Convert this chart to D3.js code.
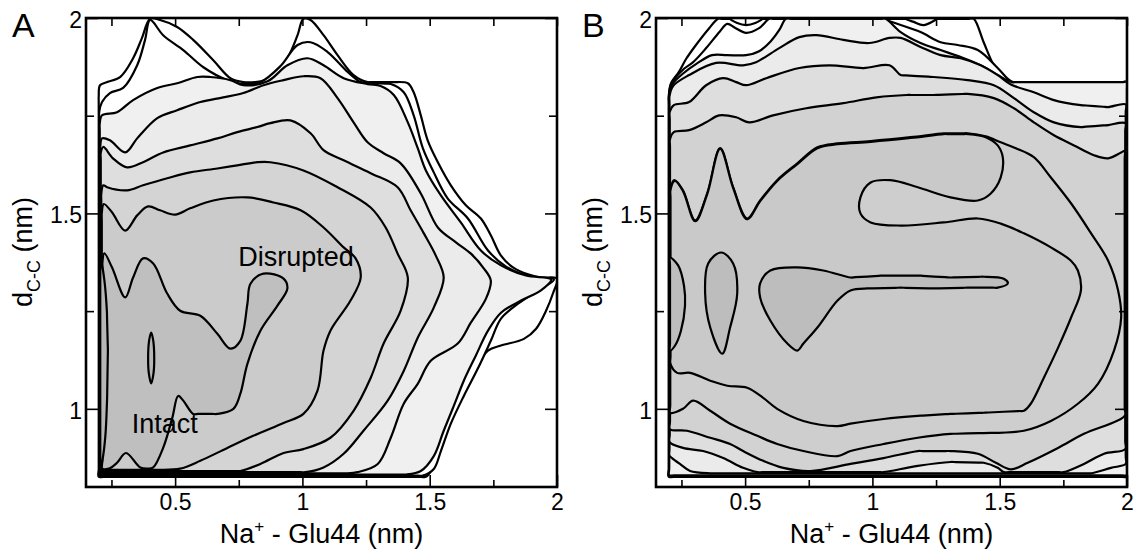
<!DOCTYPE html>
<html>
<head>
<meta charset="utf-8">
<script src="https://cdn.jsdelivr.net/npm/d3@7"></script>
<style>
  body { margin: 0; background: #fff; }
  svg text { font-family: "Liberation Sans", Arial, Helvetica, sans-serif; fill: #000; }
</style>
</head>
<body>
<div id="chart"></div>
<script>
// ---- ticks (nm) ----
const xMajor = [0.5, 1, 1.5, 2];
const xMinor = [0.25, 0.75, 1.25, 1.75];
const yMajor = [1, 1.5, 2];
const yMinor = [1.25, 1.75];

// ---- panel A contour lines, [Na+ - Glu44, dC-C] in nm, outermost first ----
const a1 = [[0.2,0.826],[0.2,1.8],[0.205,1.828],[0.233,1.836],[0.284,1.849],[0.335,1.897],[0.37,1.949],[0.402,1.998],[0.441,1.995],[0.508,1.977],[0.571,1.944],[0.65,1.892],[0.717,1.846],[0.768,1.836],[0.815,1.836],[0.855,1.841],[0.886,1.851],[0.941,1.897],[0.981,1.956],[1.004,1.998],[1.032,1.995],[1.083,1.956],[1.138,1.905],[1.201,1.854],[1.256,1.836],[1.359,1.836],[1.414,1.833],[1.437,1.81],[1.465,1.751],[1.492,1.687],[1.532,1.631],[1.583,1.572],[1.642,1.521],[1.701,1.487],[1.74,1.444],[1.78,1.392],[1.827,1.362],[1.886,1.344],[1.937,1.336],[2.0,1.333],[1.985,1.297],[1.957,1.251],[1.918,1.205],[1.87,1.179],[1.78,1.162],[1.729,1.149],[1.662,1.09],[1.61,1.028],[1.555,0.962],[1.516,0.874],[1.504,0.841],[1.485,0.826]];
const a2 = [[0.202,0.829],[0.202,1.76],[0.213,1.785],[0.244,1.808],[0.296,1.821],[0.351,1.879],[0.382,1.944],[0.402,1.995],[0.453,1.956],[0.532,1.918],[0.611,1.874],[0.705,1.841],[0.768,1.831],[0.835,1.836],[0.914,1.877],[0.981,1.931],[1.032,1.938],[1.099,1.913],[1.178,1.862],[1.229,1.836],[1.347,1.831],[1.398,1.81],[1.437,1.751],[1.473,1.667],[1.516,1.605],[1.571,1.538],[1.65,1.487],[1.729,1.405],[1.8,1.364],[1.898,1.338],[1.988,1.331],[1.926,1.303],[1.847,1.269],[1.78,1.231],[1.74,1.174],[1.689,1.103],[1.634,1.033],[1.583,0.962],[1.544,0.892],[1.516,0.846],[1.473,0.829]];
const a3 = [[0.204,0.832],[0.204,1.73],[0.213,1.751],[0.272,1.759],[0.335,1.79],[0.43,1.821],[0.508,1.833],[0.587,1.849],[0.638,1.849],[0.717,1.841],[0.768,1.828],[0.863,1.838],[0.941,1.879],[1.02,1.897],[1.083,1.879],[1.162,1.846],[1.256,1.831],[1.307,1.826],[1.359,1.803],[1.414,1.733],[1.453,1.667],[1.485,1.61],[1.544,1.546],[1.622,1.477],[1.701,1.405],[1.78,1.367],[1.878,1.341],[1.977,1.331],[1.937,1.303],[1.859,1.277],[1.78,1.246],[1.729,1.2],[1.681,1.136],[1.634,1.072],[1.595,1.008],[1.555,0.944],[1.516,0.879],[1.465,0.841],[1.406,0.832]];
const a4 = [[0.206,0.835],[0.206,1.67],[0.213,1.692],[0.244,1.687],[0.304,1.656],[0.351,1.692],[0.43,1.744],[0.508,1.764],[0.599,1.785],[0.689,1.797],[0.768,1.808],[0.847,1.828],[0.926,1.841],[1.004,1.851],[1.071,1.846],[1.138,1.795],[1.201,1.733],[1.256,1.682],[1.319,1.654],[1.386,1.628],[1.465,1.551],[1.532,1.464],[1.603,1.426],[1.662,1.397],[1.713,1.359],[1.74,1.328],[1.721,1.282],[1.662,1.221],[1.61,1.167],[1.504,1.123],[1.453,1.064],[1.398,1.013],[1.347,0.926],[1.296,0.859],[1.217,0.838],[1.17,0.835]];
const a5 = [[0.208,0.838],[0.208,1.655],[0.218,1.67],[0.256,1.641],[0.311,1.618],[0.374,1.631],[0.453,1.656],[0.559,1.674],[0.666,1.692],[0.744,1.708],[0.823,1.721],[0.874,1.731],[0.953,1.738],[1.032,1.705],[1.083,1.662],[1.162,1.636],[1.268,1.603],[1.374,1.567],[1.425,1.508],[1.477,1.449],[1.524,1.392],[1.555,1.336],[1.516,1.259],[1.453,1.182],[1.398,1.097],[1.335,1.021],[1.24,0.944],[1.162,0.885],[1.083,0.85],[1.012,0.838]];
const a6 = [[0.21,0.841],[0.21,1.55],[0.218,1.572],[0.233,1.567],[0.311,1.559],[0.374,1.572],[0.469,1.59],[0.559,1.605],[0.666,1.615],[0.744,1.623],[0.823,1.631],[0.874,1.631],[1.004,1.61],[1.138,1.567],[1.268,1.515],[1.327,1.464],[1.374,1.397],[1.414,1.336],[1.386,1.251],[1.319,1.167],[1.268,1.079],[1.201,0.995],[1.11,0.926],[1.004,0.897],[0.926,0.887],[0.835,0.859],[0.756,0.841]];
const a7 = [[0.212,0.844],[0.212,1.5],[0.22,1.524],[0.252,1.503],[0.304,1.456],[0.351,1.495],[0.394,1.518],[0.441,1.508],[0.5,1.497],[0.559,1.513],[0.65,1.533],[0.784,1.541],[0.886,1.528],[0.993,1.508],[1.083,1.464],[1.162,1.413],[1.209,1.385],[1.229,1.336],[1.189,1.277],[1.11,1.2],[1.083,1.149],[1.059,1.046],[1.004,0.987],[0.926,0.964],[0.807,0.931],[0.705,0.9],[0.599,0.867],[0.52,0.847],[0.441,0.844]];
const a8 = [[0.214,0.847],[0.214,1.37],[0.222,1.398],[0.252,1.362],[0.304,1.285],[0.335,1.336],[0.374,1.385],[0.414,1.372],[0.469,1.295],[0.52,1.251],[0.599,1.238],[0.666,1.192],[0.717,1.154],[0.756,1.174],[0.784,1.269],[0.796,1.32],[0.847,1.346],[0.926,1.333],[0.941,1.308],[0.902,1.264],[0.835,1.2],[0.784,1.115],[0.756,1.038],[0.729,1.0],[0.666,0.987],[0.571,0.987],[0.532,1.021],[0.512,1.033],[0.489,0.977],[0.453,0.9],[0.414,0.85],[0.394,0.847],[0.363,0.85],[0.307,0.887],[0.272,0.862],[0.24,0.847]];
const aLens = [[0.206,0.845],[0.206,1.39],[0.222,1.33],[0.232,1.25],[0.236,1.15],[0.233,1.03],[0.226,0.93],[0.215,0.87]];
const aEllipse = [[0.406,1.195],[0.414,1.175],[0.418,1.13],[0.415,1.09],[0.406,1.065],[0.397,1.09],[0.394,1.13],[0.398,1.175]];

// ---- panel B contour lines ----
const b1 = [[0.2,0.826],[0.2,1.8],[0.209,1.833],[0.24,1.862],[0.268,1.895],[0.307,1.931],[0.359,1.974],[0.394,1.998],[1.398,1.998],[1.437,1.938],[1.477,1.879],[1.516,1.846],[1.544,1.836],[2.0,1.836],[2.0,0.826]];
const b2 = [[0.201,0.828],[0.201,1.8],[0.209,1.83],[0.26,1.87],[0.296,1.887],[0.347,1.923],[0.4,1.965],[0.43,1.985],[0.46,1.975],[0.504,1.962],[0.555,1.974],[0.595,1.998],[1.032,1.998],[1.111,1.982],[1.189,1.964],[1.268,1.938],[1.335,1.931],[1.414,1.918],[1.492,1.872],[1.532,1.844],[1.552,1.836],[2.0,1.836],[2.0,0.828]];
const bArc1 = [[0.437,2.0],[0.469,1.987],[0.504,1.982],[0.54,1.987],[0.571,2.0]];
const bArc2 = [[1.122,2.0],[1.162,1.99],[1.201,1.982],[1.256,2.0]];
const b3 = [[0.202,0.83],[0.202,1.8],[0.213,1.829],[0.26,1.86],[0.307,1.882],[0.37,1.905],[0.43,1.905],[0.504,1.905],[0.555,1.915],[0.6,1.94],[0.635,1.97],[0.66,1.998],[1.052,1.998],[1.111,1.964],[1.189,1.936],[1.268,1.918],[1.347,1.9],[1.425,1.879],[1.492,1.854],[1.548,1.836],[2.0,1.836],[2.0,0.83]];
const b4 = [[0.203,0.88],[0.203,1.8],[0.217,1.826],[0.28,1.854],[0.386,1.885],[0.492,1.879],[0.543,1.887],[0.634,1.923],[0.713,1.951],[0.78,1.956],[0.886,1.944],[0.988,1.936],[1.067,1.949],[1.111,1.949],[1.189,1.926],[1.268,1.905],[1.347,1.897],[1.425,1.879],[1.492,1.854],[1.544,1.83],[1.634,1.81],[1.713,1.79],[1.819,1.777],[1.926,1.772],[1.995,1.779],[1.995,0.859],[1.937,0.849],[1.859,0.835],[0.363,0.835],[0.284,0.841],[0.244,0.859],[0.213,0.874]];
const b5 = [[0.204,0.915],[0.204,1.76],[0.22,1.777],[0.28,1.785],[0.347,1.828],[0.414,1.846],[0.465,1.836],[0.504,1.828],[0.583,1.846],[0.713,1.872],[0.831,1.879],[0.965,1.872],[1.067,1.879],[1.111,1.854],[1.24,1.849],[1.374,1.841],[1.477,1.828],[1.556,1.795],[1.634,1.759],[1.713,1.733],[1.819,1.721],[1.926,1.726],[1.993,1.731],[1.993,0.897],[1.91,0.885],[1.831,0.859],[1.752,0.838],[1.516,0.838],[1.492,0.849],[1.437,0.862],[1.307,0.864],[1.178,0.854],[1.044,0.838],[0.548,0.838],[0.492,0.849],[0.414,0.874],[0.335,0.892],[0.256,0.9]];
const b6 = [[0.205,0.948],[0.205,1.69],[0.22,1.708],[0.28,1.713],[0.347,1.733],[0.398,1.751],[0.465,1.746],[0.516,1.733],[0.61,1.751],[0.74,1.769],[0.886,1.782],[1.016,1.797],[1.134,1.803],[1.24,1.803],[1.374,1.806],[1.477,1.795],[1.556,1.769],[1.634,1.733],[1.713,1.7],[1.792,1.674],[1.87,1.649],[1.926,1.641],[1.977,1.656],[1.991,1.66],[1.991,0.982],[1.831,0.936],[1.729,0.9],[1.61,0.862],[1.544,0.845],[1.485,0.862],[1.414,0.885],[1.307,0.892],[1.178,0.892],[1.044,0.874],[0.914,0.859],[0.756,0.841],[0.65,0.849],[0.571,0.867],[0.492,0.892],[0.441,0.91],[0.363,0.926],[0.272,0.944]];
const b7 = [[0.206,0.99],[0.206,1.56],[0.222,1.585],[0.256,1.559],[0.304,1.482],[0.351,1.551],[0.402,1.667],[0.453,1.567],[0.508,1.487],[0.559,1.533],[0.626,1.585],[0.705,1.628],[0.784,1.669],[0.863,1.679],[0.993,1.685],[1.15,1.695],[1.28,1.705],[1.374,1.705],[1.445,1.697],[1.504,1.682],[1.563,1.667],[1.634,1.644],[1.701,1.592],[1.78,1.526],[1.859,1.449],[1.926,1.379],[1.965,1.303],[1.977,1.233],[1.949,1.149],[1.886,1.064],[1.807,1.013],[1.701,0.969],[1.595,0.944],[1.437,0.938],[1.307,0.936],[1.178,0.926],[1.044,0.91],[0.914,0.892],[0.863,0.879],[0.729,0.892],[0.626,0.91],[0.548,0.931],[0.441,0.962],[0.363,0.995],[0.296,1.021],[0.256,1.0]];
const b8 = [[0.207,1.115],[0.207,1.56],[0.224,1.583],[0.256,1.557],[0.304,1.48],[0.351,1.549],[0.402,1.665],[0.453,1.565],[0.508,1.485],[0.559,1.531],[0.626,1.583],[0.705,1.626],[0.784,1.667],[0.863,1.677],[0.993,1.683],[1.15,1.693],[1.28,1.703],[1.374,1.703],[1.445,1.695],[1.492,1.674],[1.512,1.644],[1.504,1.592],[1.465,1.551],[1.414,1.533],[1.307,1.541],[1.178,1.567],[1.071,1.585],[0.993,1.579],[0.953,1.541],[0.953,1.5],[0.993,1.477],[1.111,1.469],[1.28,1.477],[1.414,1.487],[1.504,1.474],[1.595,1.449],[1.701,1.413],[1.78,1.379],[1.807,1.354],[1.819,1.303],[1.78,1.233],[1.729,1.156],[1.673,1.079],[1.622,1.013],[1.595,0.995],[1.437,0.99],[1.307,0.987],[1.178,0.982],[1.044,0.974],[0.914,0.962],[0.863,0.956],[0.729,0.969],[0.626,1.0],[0.571,1.028],[0.508,1.054],[0.43,1.059],[0.363,1.072],[0.284,1.092],[0.233,1.092]];
const bLens = [[0.205,1.387],[0.237,1.367],[0.26,1.315],[0.264,1.264],[0.248,1.2],[0.225,1.162],[0.205,1.149]];
const bEllipse = [[0.406,1.4],[0.453,1.372],[0.469,1.295],[0.441,1.208],[0.41,1.141],[0.363,1.208],[0.343,1.295],[0.355,1.372]];
const bBlob = [[0.559,1.321],[0.599,1.354],[0.705,1.362],[0.807,1.354],[0.914,1.336],[1.044,1.341],[1.178,1.341],[1.307,1.336],[1.437,1.338],[1.516,1.333],[1.532,1.321],[1.492,1.31],[1.374,1.31],[1.24,1.308],[1.111,1.31],[0.981,1.308],[0.914,1.303],[0.863,1.277],[0.784,1.208],[0.729,1.167],[0.705,1.149],[0.666,1.167],[0.599,1.226],[0.559,1.285]];

let w = 1140;
let h = 556;

let svg = d3.select("#chart")
    .append("svg")
    .attr("width", w)
    .attr("height", h);

// add short legs next to the ends of long straight (edge) runs so the spline hugs the edge
function densify(pts) {
    let out = [];
    for (let i = 0; i < pts.length; i++) {
        let p = pts[i], q = pts[(i + 1) % pts.length];
        out.push(p);
        let dx = q[0] - p[0], dy = q[1] - p[1];
        let len = Math.hypot(dx, dy);
        if ((Math.abs(dx) < 0.006 || Math.abs(dy) < 0.006) && len > 0.08) {
            let f = 0.02 / len;
            out.push([p[0] + dx * f, p[1] + dy * f]);
            out.push([q[0] - dx * f, q[1] - dy * f]);
        }
    }
    return out;
}

function drawPanel(left, contours, shades, letter) {
    let x = d3.scaleLinear().domain([0.15, 2]).range([left, left + 471]);
    let y = d3.scaleLinear().domain([0.8, 2]).range([487, 18]);

    svg.append("clipPath").attr("id", "clip" + letter)
        .append("rect")
        .attr("x", x(0.15)).attr("y", y(2))
        .attr("width", x(2) - x(0.15)).attr("height", y(0.8) - y(2));

    let line = d3.line()
        .x(d => x(d[0]))
        .y(d => y(d[1]))
        .curve(d3.curveCatmullRomClosed.alpha(0.5));

    svg.append("g")
        .attr("clip-path", "url(#clip" + letter + ")")
        .selectAll("path")
        .data(contours)
        .join("path")
        .attr("d", d => line(densify(d)))
        .attr("fill", (d, i) => shades[i])
        .attr("stroke", "#000")
        .attr("stroke-width", 2.2)
        .attr("stroke-linejoin", "round");

    // ticks point inward on all four sides
    function styleAxis(g) {
        g.select(".domain").remove();
        g.selectAll(".tick line").attr("stroke-width", 1.6);
        g.attr("font-size", 23).attr("font-family", null);
    }
    let ax = svg.append("g");
    ax.append("g").attr("transform", `translate(0,${y(0.8)})`)
        .call(d3.axisBottom(x).tickValues(xMajor).tickSize(-12).tickPadding(7).tickFormat(d3.format("")))
        .call(styleAxis);
    ax.append("g").attr("transform", `translate(0,${y(0.8)})`)
        .call(d3.axisBottom(x).tickValues(xMinor).tickSize(-7).tickFormat(""))
        .call(styleAxis);
    ax.append("g").attr("transform", `translate(0,${y(2)})`)
        .call(d3.axisTop(x).tickValues(xMajor.concat(xMinor)).tickSize(-8).tickFormat(""))
        .call(styleAxis);
    ax.append("g").attr("transform", `translate(${x(0.15)},0)`)
        .call(d3.axisLeft(y).tickValues(yMajor).tickSize(-12).tickPadding(4).tickFormat(d3.format("")))
        .call(styleAxis)
        .selectAll("text").attr("dy", "0.4em");
    ax.append("g").attr("transform", `translate(${x(0.15)},0)`)
        .call(d3.axisLeft(y).tickValues(yMinor).tickSize(-8).tickFormat(""))
        .call(styleAxis);
    ax.append("g").attr("transform", `translate(${x(2)},0)`)
        .call(d3.axisRight(y).tickValues(yMajor).tickSize(-12).tickFormat(""))
        .call(styleAxis);
    ax.append("g").attr("transform", `translate(${x(2)},0)`)
        .call(d3.axisRight(y).tickValues(yMinor).tickSize(-8).tickFormat(""))
        .call(styleAxis);

    svg.append("rect")
        .attr("x", x(0.15)).attr("y", y(2))
        .attr("width", x(2) - x(0.15)).attr("height", y(0.8) - y(2))
        .attr("fill", "none").attr("stroke", "#000").attr("stroke-width", 2.6);

    svg.append("text")
        .attr("x", left - 74).attr("y", 37)
        .attr("font-size", 34)
        .text(letter);

    let xt = svg.append("text")
        .attr("x", (x(0.15) + x(2)) / 2).attr("y", 543)
        .attr("text-anchor", "middle")
        .attr("font-size", 27);
    xt.append("tspan").text("Na");
    xt.append("tspan").attr("font-size", 17).attr("dy", -11).text("+");
    xt.append("tspan").attr("dy", 11).text(" - Glu44 (nm)");

    let yt = svg.append("text")
        .attr("transform", `translate(${left - 54},252) rotate(-90)`)
        .attr("text-anchor", "middle")
        .attr("font-size", 27);
    yt.append("tspan").text("d");
    yt.append("tspan").attr("font-size", 18).attr("dy", 8).text("C-C");
    yt.append("tspan").attr("dy", -8).text(" (nm)");

    return { x, y };
}

let shadesA = ["#ffffff", "#ffffff", "#f0f0f0", "#ebebeb", "#dedede", "#d4d4d4", "#cbcbcb", "#bfbfbf", "#b7b7b7", "#b7b7b7"];
let sA = drawPanel(86, [a1, a2, a3, a4, a5, a6, a7, a8, aLens, aEllipse], shadesA, "A");

svg.append("text").attr("x", sA.x(0.748)).attr("y", 266).attr("font-size", 27).text("Disrupted");
svg.append("text").attr("x", sA.x(0.33)).attr("y", 433).attr("font-size", 27).text("Intact");

let shadesB = ["#ffffff", "#ffffff", "#ffffff", "#ffffff", "#f0f0f0", "#ebebeb", "#dedede", "#d2d2d2", "#cecece", "#c9c9c9", "#bdbdbd", "#bdbdbd", "#bdbdbd"];
drawPanel(656, [b1, b2, bArc1, bArc2, b3, b4, b5, b6, b7, b8, bLens, bEllipse, bBlob], shadesB, "B");
</script>
</body>
</html>
